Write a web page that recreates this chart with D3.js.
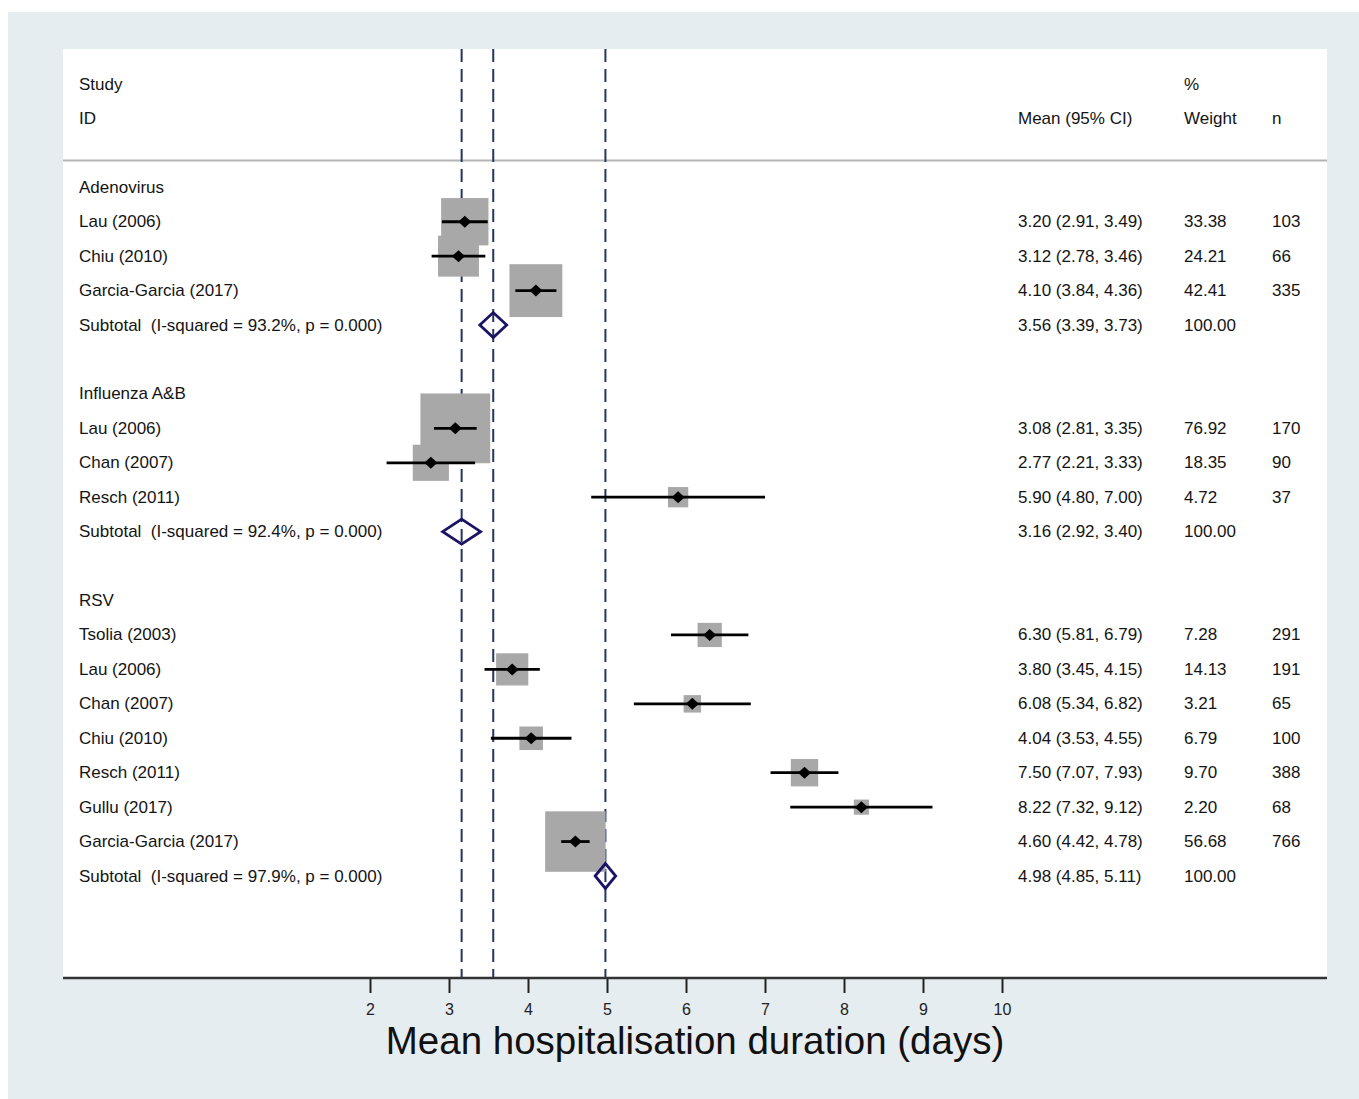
<!DOCTYPE html>
<html lang="en">
<head>
    <meta charset="UTF-8">
    <title>Mean hospitalisation duration forest plot</title>
    <script src="https://cdn.jsdelivr.net/npm/d3@7"></script>
    <style>
        body { margin: 0; background: white; }
        text {
            font-family: "Liberation Sans", Arial, sans-serif;
            fill: #141414;
            white-space: pre;
        }
        .row text { font-size: 17px; dominant-baseline: central; }
        .tick text { font-size: 16px; fill: #222; }
    </style>
</head>
<body>
<script>
    // data
    const groups      = ["Adenovirus", "Influenza A&B", "RSV"];
    const studyNames  = ["Lau (2006)", "Chiu (2010)", "Garcia-Garcia (2017)",
                         "Lau (2006)", "Chan (2007)", "Resch (2011)",
                         "Tsolia (2003)", "Lau (2006)", "Chan (2007)", "Chiu (2010)", "Resch (2011)", "Gullu (2017)", "Garcia-Garcia (2017)"];
    const studyGroup  = [0, 0, 0, 1, 1, 1, 2, 2, 2, 2, 2, 2, 2];
    const studyMean   = [3.20, 3.12, 4.10, 3.08, 2.77, 5.90, 6.30, 3.80, 6.08, 4.04, 7.50, 8.22, 4.60];
    const studyLow    = [2.91, 2.78, 3.84, 2.81, 2.21, 4.80, 5.81, 3.45, 5.34, 3.53, 7.07, 7.32, 4.42];
    const studyHigh   = [3.49, 3.46, 4.36, 3.35, 3.33, 7.00, 6.79, 4.15, 6.82, 4.55, 7.93, 9.12, 4.78];
    const studyWeight = [33.38, 24.21, 42.41, 76.92, 18.35, 4.72, 7.28, 14.13, 3.21, 6.79, 9.70, 2.20, 56.68];
    const studyN      = [103, 66, 335, 170, 90, 37, 291, 191, 65, 100, 388, 68, 766];

    const subI2   = ["93.2%", "92.4%", "97.9%"];
    const subP    = ["0.000", "0.000", "0.000"];
    const subMean = [3.56, 3.16, 4.98];
    const subLow  = [3.39, 2.92, 4.85];
    const subHigh = [3.73, 3.40, 5.11];

    const xTicks = [2, 3, 4, 5, 6, 7, 8, 9, 10];

    const width = 1359, height = 1099;
    const panel = {left: 63, right: 1327, top: 49, bottom: 978};

    const svg = d3.select("body").append("svg")
        .attr("width", width).attr("height", height);

    svg.append("rect").attr("x", 8).attr("y", 12)
        .attr("width", width - 8).attr("height", height - 12)
        .style("fill", "#e6edf0");
    svg.append("rect").attr("x", panel.left).attr("y", panel.top)
        .attr("width", panel.right - panel.left).attr("height", panel.bottom - panel.top)
        .style("fill", "white");

    const x = d3.scaleLinear().domain([2, 10]).range([370, 1002]);
    const rowY = d3.scaleLinear().domain([0, 23]).range([84, 876]);
    const boxSide = d3.scaleSqrt().domain([0, 100]).range([4, 79]);

    // build row layout
    const rows = [];
    let r = 3;
    groups.forEach((g, gi) => {
        rows.push({type: "group", row: r++, label: g});
        studyNames.forEach((s, i) => {
            if (studyGroup[i] !== gi) return;
            rows.push({type: "study", row: r++, label: s, mean: studyMean[i], lo: studyLow[i], hi: studyHigh[i],
                       w: studyWeight[i], n: studyN[i]});
        });
        rows.push({type: "sub", row: r++, label: `Subtotal  (I-squared = ${subI2[gi]}, p = ${subP[gi]})`,
                   mean: subMean[gi], lo: subLow[gi], hi: subHigh[gi], w: 100});
        r++;
    });

    const fmt = d3.format(".2f");

    // header
    const head = svg.append("g").attr("class", "row");
    head.append("text").attr("x", 79).attr("y", rowY(0)).text("Study");
    head.append("text").attr("x", 79).attr("y", rowY(1)).text("ID");
    head.append("text").attr("x", 1018).attr("y", rowY(1)).text("Mean (95% CI)");
    head.append("text").attr("x", 1184).attr("y", rowY(0)).text("%");
    head.append("text").attr("x", 1184).attr("y", rowY(1)).text("Weight");
    head.append("text").attr("x", 1272).attr("y", rowY(1)).text("n");

    svg.append("line").attr("x1", panel.left).attr("x2", panel.right)
        .attr("y1", 160.5).attr("y2", 160.5)
        .style("stroke", "#b4b4b4").style("stroke-width", 2);

    // subgroup estimate lines
    svg.selectAll("line.ref").data(subMean).join("line")
        .attr("class", "ref")
        .attr("x1", d => x(d)).attr("x2", d => x(d))
        .attr("y1", panel.top).attr("y2", panel.bottom)
        .style("stroke", "#26355e").style("stroke-width", 2)
        .style("stroke-dasharray", "13,7");

    const studies = rows.filter(d => d.type === "study");
    const subs = rows.filter(d => d.type === "sub");

    svg.selectAll("rect.box").data(studies).join("rect")
        .attr("class", "box")
        .attr("x", d => x(d.mean) - boxSide(d.w) / 2)
        .attr("y", d => rowY(d.row) - boxSide(d.w) / 2)
        .attr("width", d => boxSide(d.w)).attr("height", d => boxSide(d.w))
        .style("fill", "#a8a8a8");

    svg.selectAll("line.ci").data(studies).join("line")
        .attr("class", "ci")
        .attr("x1", d => x(d.lo)).attr("x2", d => x(d.hi))
        .attr("y1", d => rowY(d.row)).attr("y2", d => rowY(d.row))
        .style("stroke", "black").style("stroke-width", 2.8);

    svg.selectAll("path.pt").data(studies).join("path")
        .attr("class", "pt")
        .attr("transform", d => `translate(${x(d.mean)},${rowY(d.row)})`)
        .attr("d", "M-6.5,0L0,-6L6.5,0L0,6Z")
        .style("fill", "black");

    svg.selectAll("path.sub").data(subs).join("path")
        .attr("class", "sub")
        .attr("d", d => {
            const y = rowY(d.row);
            return `M${x(d.lo)},${y}L${x(d.mean)},${y - 12.5}L${x(d.hi)},${y}L${x(d.mean)},${y + 12.5}Z`;
        })
        .style("fill", "none").style("stroke", "#1b1464").style("stroke-width", 2.8);

    // text columns
    const txt = svg.append("g").attr("class", "row");
    txt.selectAll("text.label").data(rows).join("text")
        .attr("class", "label")
        .attr("x", 79).attr("y", d => rowY(d.row)).text(d => d.label);
    txt.selectAll("text.est").data(rows.filter(d => d.type !== "group")).join("text")
        .attr("class", "est")
        .attr("x", 1018).attr("y", d => rowY(d.row))
        .text(d => `${fmt(d.mean)} (${fmt(d.lo)}, ${fmt(d.hi)})`);
    txt.selectAll("text.wt").data(rows.filter(d => d.type !== "group")).join("text")
        .attr("class", "wt")
        .attr("x", 1184).attr("y", d => rowY(d.row)).text(d => fmt(d.w));
    txt.selectAll("text.n").data(studies).join("text")
        .attr("class", "n")
        .attr("x", 1272).attr("y", d => rowY(d.row)).text(d => d.n);

    // axis
    const axis = svg.append("g").attr("transform", `translate(0,${panel.bottom})`)
        .call(d3.axisBottom(x).tickValues(xTicks).tickSize(15).tickPadding(11));
    axis.select(".domain").remove();
    axis.selectAll(".tick line").style("stroke", "#222").style("stroke-width", 2);
    svg.append("line").attr("x1", panel.left).attr("x2", panel.right)
        .attr("y1", panel.bottom).attr("y2", panel.bottom)
        .style("stroke", "#333").style("stroke-width", 2.5);

    svg.append("text").attr("x", 695).attr("y", 1040)
        .attr("text-anchor", "middle").attr("dominant-baseline", "central")
        .style("font-size", "38.5px").style("fill", "#111")
        .text("Mean hospitalisation duration (days)");
</script>
</body>
</html>
